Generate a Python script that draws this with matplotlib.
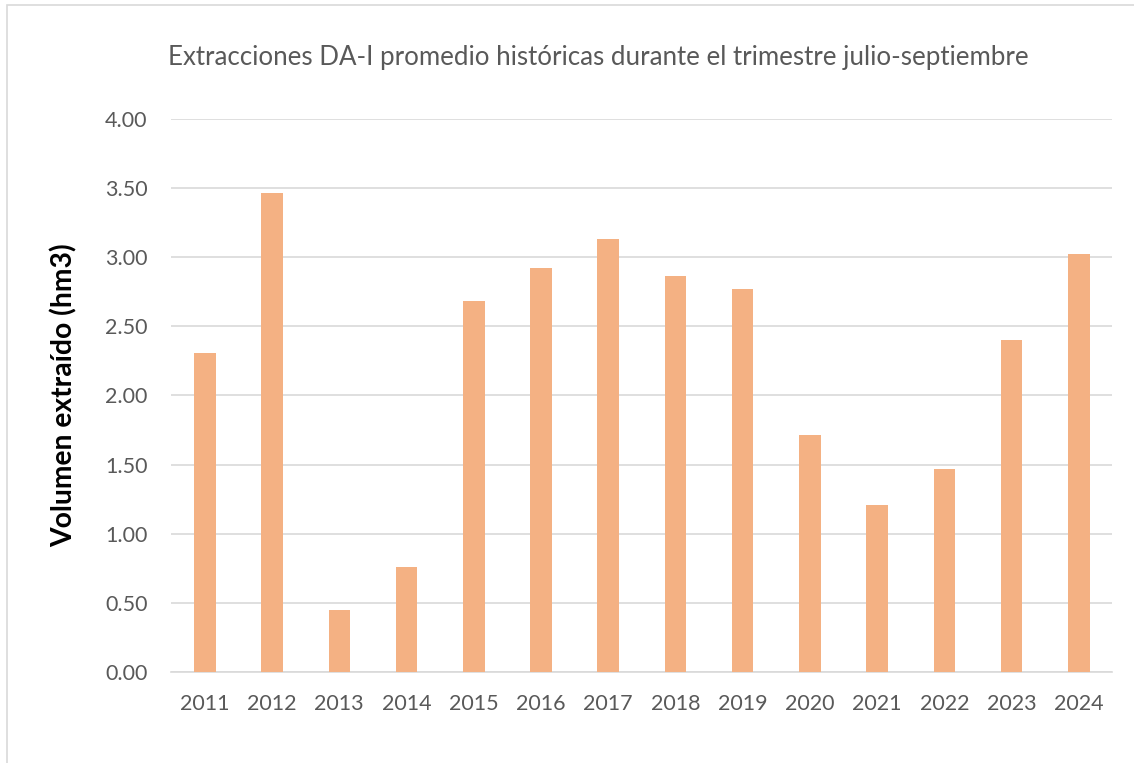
import numpy as np
import matplotlib.pyplot as plt
from matplotlib.patches import Rectangle

years = ["2011", "2012", "2013", "2014", "2015", "2016", "2017",
         "2018", "2019", "2020", "2021", "2022", "2023", "2024"]
volumes = [2.31, 3.46, 0.45, 0.76, 2.68, 2.92, 3.13,
           2.86, 2.77, 1.71, 1.21, 1.47, 2.40, 3.02]
y_ticks = [0.0, 0.5, 1.0, 1.5, 2.0, 2.5, 3.0, 3.5, 4.0]

plt.rcParams['font.family'] = ['Lato', 'DejaVu Sans']
text_col = "#595959"

fig = plt.figure(figsize=(11.34, 7.63), dpi=100)
ax = fig.add_axes([0.151, 0.1193, 0.830, 0.725])

x = np.arange(len(years))
ax.bar(x, volumes, width=0.32, color="#F4B183", zorder=3)

ax.set_xlim(-0.5, len(years) - 0.5)
ax.set_ylim(0, 4.0)
ax.set_yticks(y_ticks)
ax.set_yticklabels([f"{v:.2f}" for v in y_ticks])
ax.set_xticks(x)
ax.set_xticklabels(years)
ax.tick_params(axis="both", length=0, labelsize=15.5, colors=text_col)
ax.tick_params(axis="x", pad=16)
ax.tick_params(axis="y", pad=17)
ax.grid(axis="y", color="#D9D9D9", lw=1.2, zorder=0)
for s in ["top", "right", "left"]:
    ax.spines[s].set_visible(False)
ax.spines["bottom"].set_color("#D9D9D9")
ax.spines["bottom"].set_linewidth(1.2)

ax.set_ylabel("Volumen extraído (hm3)", fontsize=20.3, fontweight="bold",
              color="black", labelpad=20)
fig.text(0.528, 0.924, "Extracciones DA-I promedio históricas durante el trimestre julio-septiembre",
         ha="center", va="center", fontsize=18.6, color=text_col)

# outer chart frame (partly cropped in the reference)
fig.patches.append(Rectangle((7 / 1134, -0.1), 1.2, 1.1 - 5 / 763,
                             transform=fig.transFigure, fill=False,
                             edgecolor="#D9D9D9", lw=1.2))

fig.savefig("out.png", dpi=100)
